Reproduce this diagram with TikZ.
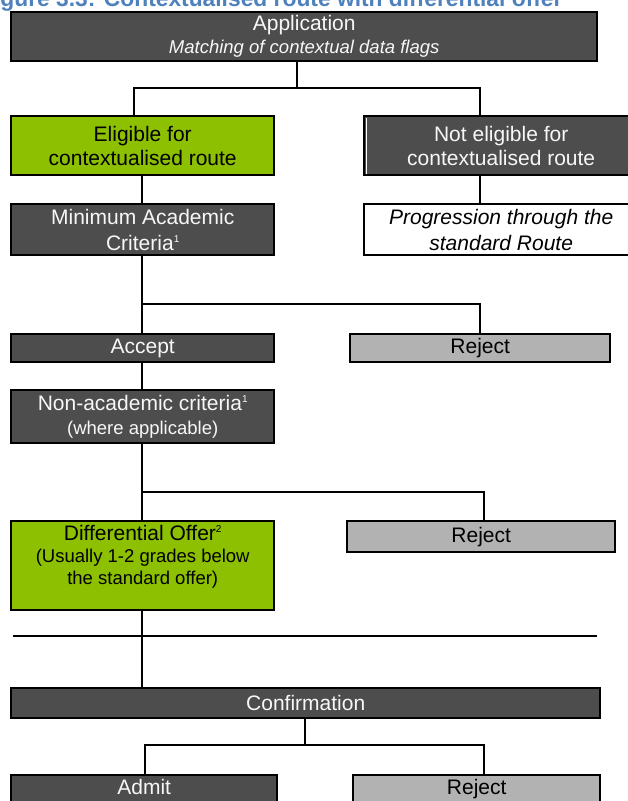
\documentclass[tikz,border=0pt]{standalone}
\usepackage{fontspec}
\setmainfont{Liberation Sans}
\usetikzlibrary{calc}
\definecolor{dk}{HTML}{4D4D4D}
\definecolor{gr}{HTML}{8CC000}
\definecolor{lg}{HTML}{B2B2B2}
\definecolor{ttl}{HTML}{4F81BD}
\definecolor{wt}{HTML}{F7F7F7}
\newcommand\bigf{\fontsize{21}{24}\selectfont}
\newcommand\smf{\fontsize{18.5}{21.5}\selectfont}
\newcommand\supr[1]{\raisebox{7.5pt}{\fontsize{10}{10}\selectfont #1}}
\begin{document}
\begin{tikzpicture}[x=1pt,y=-1pt,
 box/.style={draw=black, line width=2.4pt, inner sep=0pt, anchor=north west, align=center, font=\bigf},
 dkbox/.style={box, fill=dk, text=wt},
 grbox/.style={box, fill=gr, text=black},
 lgbox/.style={box, fill=lg, text=black},
 wbox/.style={box, fill=white, text=black, font=\bigf\itshape},
 conn/.style={draw=black, line width=1.8pt}]
\useasboundingbox (0,0) rectangle (628,801);
\clip (0,0) rectangle (628,801);
\node[anchor=base west, text=ttl, font=\fontsize{22.8}{26}\selectfont\bfseries, inner sep=0pt] (title) at (-20,6) {Figure 3.3: Contextualised route with differential offer};

\node[dkbox, minimum width=586, minimum height=49] (app) at (10,11)
  {Application\\[-1pt]{\smf\itshape Matching of contextual data flags}};
\node[grbox, minimum width=263, minimum height=59] (elig) at (10,115)
  {Eligible for\\contextualised route};
\node[dkbox, minimum width=274, minimum height=59] (nelig) at (363,115)
  {Not eligible for\\contextualised route};
\draw[white, line width=1.2pt] ($(nelig.north west)+(3.5,2.5)$) -- ($(nelig.south west)+(3.5,-2.5)$);
\node[dkbox, minimum width=263, minimum height=51] (minac) at (10,203)
  {Minimum Academic\\[2pt]Criteria\supr{1}};
\node[wbox, minimum width=274, minimum height=51] (prog) at (363,203)
  {Progression through the\\[2pt]standard Route};
\node[dkbox, minimum width=263, minimum height=28] (acc) at (10,333) {Accept};
\node[lgbox, minimum width=260, minimum height=28] (rej1) at (349,333) {Reject};
\node[dkbox, minimum width=263, minimum height=53] (nonac) at (10,389)
  {Non-academic criteria\supr{1}\\{\smf (where applicable)}};
\node[grbox, minimum width=263, minimum height=89] (diff) at (10,520)
  {\parbox[c][81pt][t]{255pt}{\centering Differential Offer\supr{2}\par\vspace{1pt}
   {\smf (Usually 1-2 grades below\par the standard offer)\par}}};
\node[lgbox, minimum width=268, minimum height=31] (rej2) at (346,520) {Reject};
\node[dkbox, minimum width=589, minimum height=30] (conf) at (10,687) {Confirmation};
\node[dkbox, minimum width=266, minimum height=34, text depth=11pt] (admit) at (10,774) {Admit};
\node[lgbox, minimum width=247, minimum height=34, text depth=11pt] (rej3) at (352,774) {Reject};

% connectors
\coordinate (a1) at (297,88);
\coordinate (a2) at (134,88);
\coordinate (a3) at (480,88);
\draw[conn] (app.south -| a1) -- (a1);
\draw[conn] (elig.north -| a2) |- (a3) -- (nelig.north -| a3);
\coordinate (v) at (142,0);
\draw[conn] (elig.south -| v) -- (minac.north -| v);
\draw[conn] (nelig.south -| a3) -- (prog.north -| a3);
\coordinate (b1) at (480,304);
\draw[conn] (minac.south -| v) -- (acc.north -| v);
\draw[conn] (b1 -| v) -- (b1) -- (rej1.north -| b1);
\draw[conn] (acc.south -| v) -- (nonac.north -| v);
\coordinate (b2) at (484,492);
\draw[conn] (nonac.south -| v) -- (diff.north -| v);
\draw[conn] (b2 -| v) -- (b2) -- (rej2.north -| b2);
\coordinate (h1) at (13,636);
\coordinate (h2) at (597,636);
\draw[conn] (h1) -- (h2);
\draw[conn] (diff.south -| v) -- (conf.north -| v);
\coordinate (c0) at (305,745);
\coordinate (c1) at (145,745);
\coordinate (c2) at (484,745);
\draw[conn] (conf.south -| c0) -- (c0);
\draw[conn] (admit.north -| c1) |- (c2) -- (rej3.north -| c2);
\end{tikzpicture}
\end{document}
